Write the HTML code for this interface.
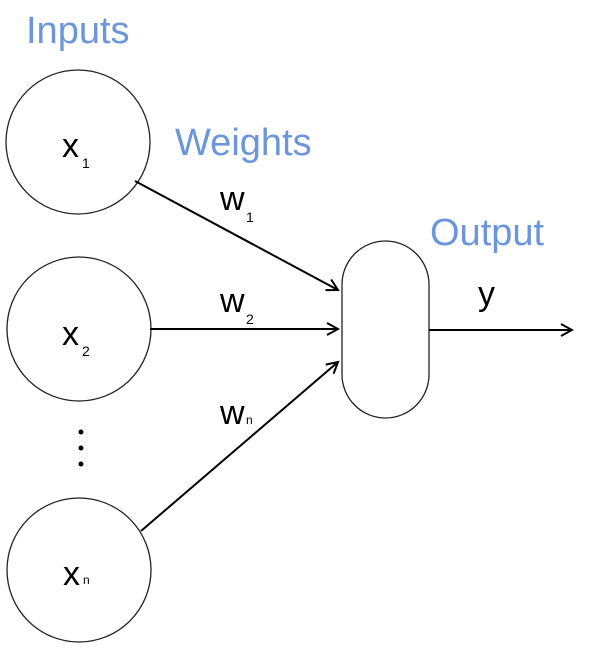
<!DOCTYPE html>
<html><head><meta charset="utf-8"><style>
html,body{margin:0;padding:0;background:#fff;}
svg{display:block;}
</style></head><body>
<svg width="600" height="654" viewBox="0 0 600 654" xmlns="http://www.w3.org/2000/svg">
<defs>
<marker id="a" markerWidth="14" markerHeight="14" refX="12" refY="7" orient="auto" markerUnits="userSpaceOnUse">
<path d="M1,1 L12,7 L1,13" fill="none" stroke="#000" stroke-width="2"/>
</marker>
</defs>
<g font-family="Liberation Sans, sans-serif" fill="#6b96dc">
<text x="26" y="43" font-size="38">Inputs</text>
<text x="175" y="155" font-size="38">Weights</text>
<text x="430" y="245" font-size="38">Output</text>
</g>
<g fill="none" stroke="#222" stroke-width="1.3">
<circle cx="78" cy="142" r="72"/>
<circle cx="79" cy="329" r="72"/>
<circle cx="79" cy="570" r="72"/>
<rect x="342" y="241" width="87" height="177" rx="43.5" ry="43.5"/>
</g>
<g stroke="#000" stroke-width="2" fill="none">
<line x1="135" y1="181" x2="338" y2="290" marker-end="url(#a)"/>
<line x1="150" y1="329" x2="338" y2="329" marker-end="url(#a)"/>
<line x1="141" y1="531" x2="338" y2="362" marker-end="url(#a)"/>
<line x1="429" y1="330" x2="572" y2="330" marker-end="url(#a)"/>
</g>
<g fill="#000">
<circle cx="81" cy="432" r="2.5"/><circle cx="81" cy="448" r="2.5"/><circle cx="81" cy="464" r="2.5"/>
</g>
<g font-family="Liberation Sans, sans-serif" fill="#000">
<text x="62" y="157" font-size="34">x</text><text x="82" y="168" font-size="14">1</text>
<text x="62" y="345" font-size="34">x</text><text x="82" y="356" font-size="14">2</text>
<text x="63" y="585" font-size="34">x</text><text x="83" y="584" font-size="12">n</text>
<text x="220" y="210" font-size="34">w</text><text x="246" y="222" font-size="14">1</text>
<text x="220" y="312" font-size="34">w</text><text x="246" y="324" font-size="14">2</text>
<text x="220" y="424" font-size="34">w</text><text x="246" y="424" font-size="12">n</text>
<text x="478" y="305" font-size="34">y</text>
</g>
</svg>
</body></html>
